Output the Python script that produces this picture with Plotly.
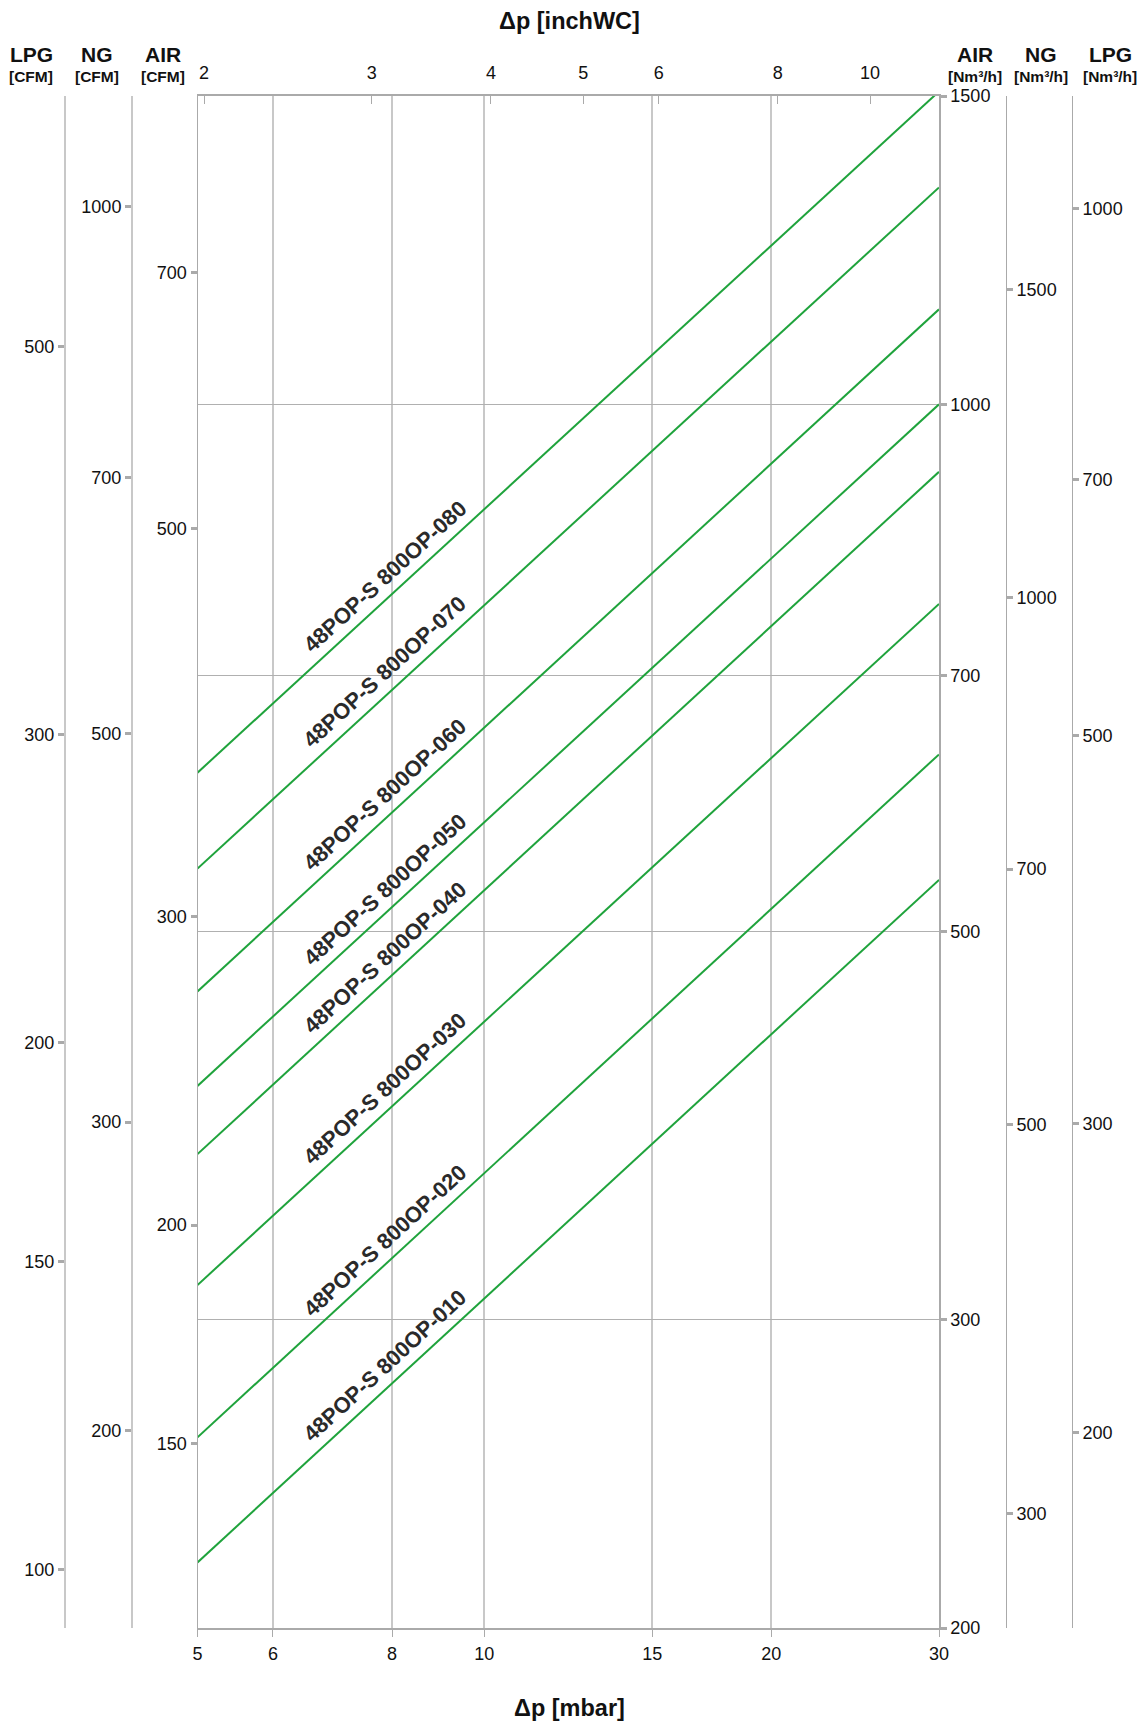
import math
import plotly.graph_objects as go

# Valve series and their air flow (Nm³/h) at the two ends of the pressure range
models = [
    "48POP-S 800OP-010", "48POP-S 800OP-020", "48POP-S 800OP-030", "48POP-S 800OP-040",
    "48POP-S 800OP-050", "48POP-S 800OP-060", "48POP-S 800OP-070", "48POP-S 800OP-080",
]
dp_mbar = [5, 30]
air_flow_at_5 = [218, 257, 314, 373, 408, 462, 543, 616]
air_flow_at_30 = [535, 631, 769, 915, 1000, 1133, 1330, 1509]

# Tick values for each scale
mbar_ticks = [5, 6, 8, 10, 15, 20, 30]
inchwc_ticks = [2, 3, 4, 5, 6, 8, 10]
air_nm3h_ticks = [200, 300, 500, 700, 1000, 1500]
air_cfm_ticks = [150, 200, 300, 500, 700]
ng_cfm_ticks = [200, 300, 500, 700, 1000]
lpg_cfm_ticks = [100, 150, 200, 300, 500]
ng_nm3h_ticks = [300, 500, 700, 1000, 1500]
lpg_nm3h_ticks = [200, 300, 500, 700, 1000]

# Unit / gas conversion factors relative to air flow in Nm³/h
MBAR_PER_INCHWC = 2.54
AIR_CFM = 0.5886
NG_CFM = 0.5886 * 1.31
LPG_CFM = 0.5886 * 0.787
NG_NM3H = 1.29
LPG_NM3H = 0.773

flow_range = [200, 1500]
dp_range = [5, 30]

W, H = 1146, 1724
ML, MR, MT, MB = 40, 40, 96, 96
PW = W - ML - MR
PH = H - MT - MB


def px_x(px):
    return (px - ML) / PW


def px_y(py):
    return (H - MB - py) / PH


FONT = "Liberation Sans, Arial, sans-serif"
GREEN = "#1fa33c"
TICK_FONT = dict(family=FONT, size=18, color="#111")

fig = go.Figure()

for name, q5, q30 in zip(models, air_flow_at_5, air_flow_at_30):
    fig.add_trace(go.Scatter(
        x=dp_mbar, y=[q5, q30], mode="lines", name=name,
        line=dict(color=GREEN, width=2), hoverinfo="skip", showlegend=False,
    ))

# register the extra axes
for ax in ["y2", "y3", "y4", "y5", "y6"]:
    fig.add_trace(go.Scatter(x=[], y=[], xaxis="x", yaxis=ax, showlegend=False, hoverinfo="skip"))
fig.add_trace(go.Scatter(x=[], y=[], xaxis="x2", yaxis="y", showlegend=False, hoverinfo="skip"))

x0, x1 = px_x(197.5), px_x(939)


def lrange(factor):
    return [math.log10(flow_range[0] * factor), math.log10(flow_range[1] * factor)]


def flow_axis(ticks, factor, side, position=None, linecolor="#c8c8c8", linewidth=2):
    d = dict(
        type="log", range=lrange(factor), tickvals=ticks, ticktext=[str(t) for t in ticks],
        side=side, showgrid=False, zeroline=False, showline=True,
        linecolor=linecolor, linewidth=linewidth,
        ticks="outside", ticklen=6, tickwidth=3, tickcolor="#aaaaaa",
        tickfont=TICK_FONT, fixedrange=True,
    )
    if position is not None:
        d.update(anchor="free", position=position, overlaying="y")
    return d


layout = dict(
    width=W, height=H, margin=dict(l=ML, r=MR, t=MT, b=MB),
    paper_bgcolor="white", plot_bgcolor="white", showlegend=False,
    xaxis=dict(
        type="log", range=[math.log10(dp_range[0]), math.log10(dp_range[1])], domain=[x0, x1],
        tickvals=mbar_ticks, ticktext=[str(t) for t in mbar_ticks],
        showgrid=True, gridcolor="#c8c8c8", gridwidth=1.5,
        showline=True, linecolor="#aaaaaa", linewidth=2,
        ticks="outside", ticklen=7, tickcolor="#aaaaaa", tickwidth=1,
        tickfont=TICK_FONT, ticklabelstandoff=1, zeroline=False, anchor="y",
    ),
    xaxis2=dict(
        type="log", overlaying="x", side="top", anchor="y", domain=[x0, x1],
        range=[math.log10(dp_range[0] / MBAR_PER_INCHWC), math.log10(dp_range[1] / MBAR_PER_INCHWC)],
        tickvals=inchwc_ticks, ticktext=[str(t) for t in inchwc_ticks],
        showgrid=False, showline=True, linecolor="#aaaaaa", linewidth=2,
        ticks="inside", ticklen=8, tickcolor="#aaaaaa", tickwidth=1,
        tickfont=TICK_FONT, ticklabelstandoff=8, zeroline=False,
    ),
    yaxis=dict(
        type="log", range=lrange(1.0), domain=[0, 1], side="right", anchor="x",
        tickvals=air_nm3h_ticks, ticktext=[str(t) for t in air_nm3h_ticks],
        showgrid=True, gridcolor="#b0b0b0", gridwidth=1,
        showline=True, linecolor="#aaaaaa", linewidth=1.5,
        ticks="outside", ticklen=6, tickwidth=3, tickcolor="#aaaaaa",
        tickfont=TICK_FONT, zeroline=False,
    ),
    yaxis2=dict(flow_axis(air_cfm_ticks, AIR_CFM, "left", linecolor="#aaaaaa", linewidth=1),
                anchor="x", overlaying="y"),
    yaxis3=flow_axis(ng_cfm_ticks, NG_CFM, "left", position=px_x(132)),
    yaxis4=flow_axis(lpg_cfm_ticks, LPG_CFM, "left", position=px_x(65)),
    yaxis5=flow_axis(ng_nm3h_ticks, NG_NM3H, "right", position=px_x(1006), linecolor="#aaaaaa", linewidth=1),
    yaxis6=flow_axis(lpg_nm3h_ticks, LPG_NM3H, "right", position=px_x(1072), linecolor="#aaaaaa", linewidth=1),
)
fig.update_layout(**layout)

annotations = []


def header(text, px, py, size):
    annotations.append(dict(
        text=f"<b>{text}</b>", x=px_x(px), y=px_y(py), xref="paper", yref="paper",
        showarrow=False, xanchor="center", yanchor="middle",
        font=dict(family=FONT, size=size, color="#111"),
    ))


# scale headers
for label, unit, px in [("LPG", "[CFM]", 31), ("NG", "[CFM]", 97), ("AIR", "[CFM]", 163),
                        ("AIR", "[Nm³/h]", 975), ("NG", "[Nm³/h]", 1041), ("LPG", "[Nm³/h]", 1110)]:
    header(label, px, 55, 21)
    header(unit, px, 76, 15.5)

header("Δp [inchWC]", 569, 21, 23.5)
header("Δp [mbar]", 569, 1708, 23.5)

# rotated series labels along each line
label_dp = 8.1
plot_w = (x1 - x0) * PW
px_per_dec_x = plot_w / (math.log10(dp_range[1]) - math.log10(dp_range[0]))
px_per_dec_y = PH / (math.log10(flow_range[1]) - math.log10(flow_range[0]))
perp = 18
for name, q5, q30 in zip(models, air_flow_at_5, air_flow_at_30):
    lx0, lx1 = math.log10(dp_mbar[0]), math.log10(dp_mbar[1])
    ly0, ly1 = math.log10(q5), math.log10(q30)
    slope = (ly1 - ly0) / (lx1 - lx0)
    lx = math.log10(label_dp)
    ly = ly0 + slope * (lx - lx0)
    ang = math.atan(slope * px_per_dec_y / px_per_dec_x)
    annotations.append(dict(
        text=f"<b>{name}</b>", x=lx, y=ly, xref="x", yref="y", showarrow=False,
        textangle=-math.degrees(ang), xanchor="center", yanchor="middle",
        xshift=-perp * math.sin(ang), yshift=perp * math.cos(ang),
        font=dict(family=FONT, size=22, color="#2a2a2a"),
    ))

fig.update_layout(annotations=annotations)
fig.write_html("out.html")
